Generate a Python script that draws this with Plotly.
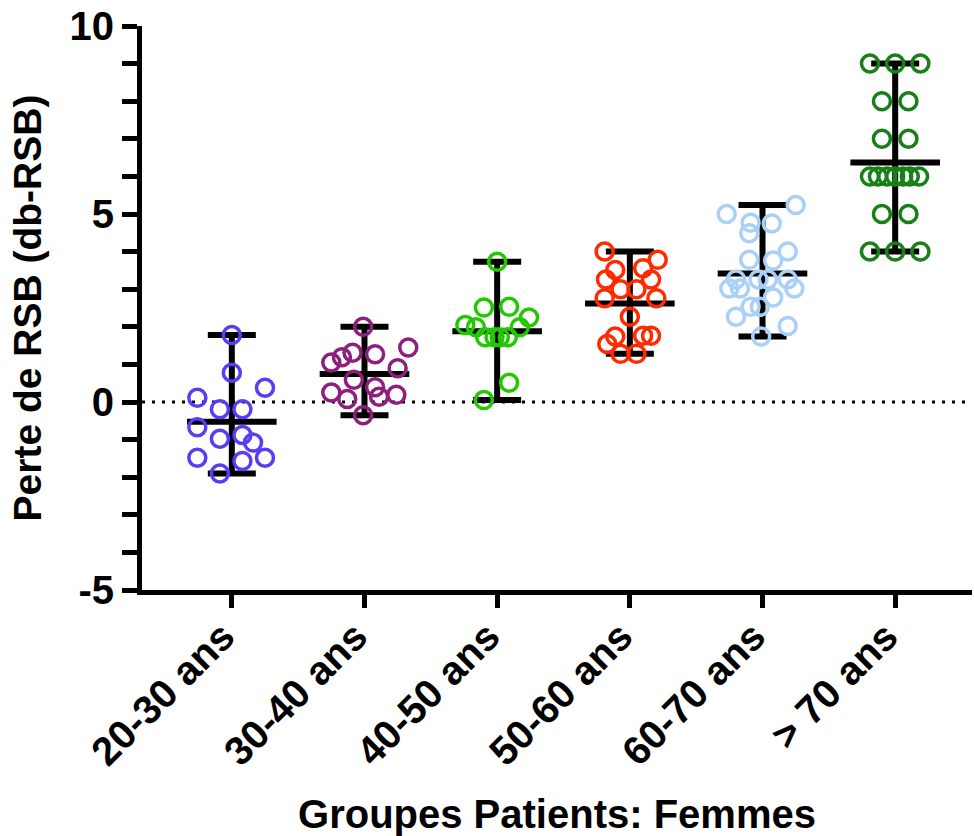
import numpy as np
import plotly.graph_objects as go

categories = ["20-30 ans", "30-40 ans", "40-50 ans", "50-60 ans", "60-70 ans", "> 70 ans"]
y_tick_values = [-5, 0, 5, 10]
y_tick_labels = ["-5", "0", "5", "10"]

g1_values = [1.78, 0.78, 0.38, 0.11, -0.19, -0.19, -0.67, -0.98, -0.88, -1.08, -1.48, -1.57, -1.48, -1.90]
g2_values = [2.00, 1.45, 1.05, 1.19, 1.31, 1.27, 0.90, 0.59, 0.25, 0.08, 0.39, 0.14, 0.19, -0.35]
g3_values = [3.73, 2.51, 2.53, 2.25, 2.05, 1.99, 1.99, 1.72, 1.72, 1.72, 1.72, 0.51, 0.05]
g4_values = [4.00, 3.78, 3.51, 3.56, 3.26, 3.26, 3.00, 3.00, 2.76, 2.76, 2.27, 1.74, 1.76, 1.76, 1.54, 1.28, 1.28]
g5_values = [5.24, 5.00, 4.77, 4.75, 4.49, 4.00, 3.78, 3.76, 3.26, 3.26, 3.26, 3.26, 3.02, 3.02, 3.02,
             2.78, 2.53, 2.53, 2.27, 2.02, 1.74]
g6_values = [9, 9, 9, 8, 8, 7, 7, 6, 6, 6, 6, 6, 6, 6, 5, 5, 4, 4, 4]

values = [g1_values, g2_values, g3_values, g4_values, g5_values, g6_values]

# horizontal scatter (spread) of the dots within each column, in category units
g1_spread = [0, 0, 0.25, -0.26, -0.09, 0.08, -0.26, -0.09, 0.08, 0.16, -0.26, 0.08, 0.25, -0.09]
g2_spread = [-0.01, 0.33, -0.25, -0.17, -0.09, 0.08, 0.25, -0.08, -0.25, -0.13, 0.08, 0.11, 0.24, -0.01]
g3_spread = [0, -0.10, 0.09, 0.24, -0.24, -0.16, 0.17, -0.09, -0.02, 0.02, 0.08, 0.09, -0.10]
g4_spread = [-0.19, 0.21, -0.11, 0.10, -0.18, 0.16, -0.07, 0.05, -0.19, 0.20, 0, -0.11, 0.10, 0.16, -0.17, -0.07, 0.05]
g5_spread = [0.25, -0.27, -0.09, 0.07, -0.10, 0.19, -0.10, 0.08, -0.20, -0.03, 0.04, 0.19, -0.25, -0.17, 0.24,
             0.08, -0.09, -0.02, -0.20, 0.19, -0.01]
g6_spread = [-0.19, 0, 0.19, -0.10, 0.10, -0.10, 0.10, -0.19, -0.13, -0.06, 0, 0.06, 0.11, 0.18, -0.10, 0.10,
             -0.19, 0, 0.19]
spreads = [g1_spread, g2_spread, g3_spread, g4_spread, g5_spread, g6_spread]

colors = ["#5A3CF5", "#8E1F7E", "#22C800", "#FF2A00", "#A8D0F8", "#178017"]

FONT = "Liberation Sans, Arial, sans-serif"

fig = go.Figure()

# zero line (dotted)
fig.add_shape(type="line", xref="paper", x0=0, x1=1, yref="y", y0=0, y1=0,
              line=dict(color="black", width=3, dash="3px,7px"), layer="below")

# mean + range bars
for i, vals in enumerate(values):
    arr = np.array(vals, dtype=float)
    m = arr.mean()
    fig.add_trace(go.Scatter(
        x=[i], y=[m], mode="markers",
        marker=dict(symbol="line-ew", size=64, color="black",
                    line=dict(color="black", width=6)),
        error_y=dict(type="data", symmetric=False,
                     array=[arr.max() - m], arrayminus=[m - arr.min()],
                     color="black", thickness=6, width=24),
        showlegend=False, hoverinfo="skip"))

# points
for i, (vals, sp) in enumerate(zip(values, spreads)):
    fig.add_trace(go.Scatter(
        x=[i + s for s in sp], y=vals, mode="markers",
        marker=dict(symbol="circle-open", size=17, color=colors[i],
                    line=dict(color=colors[i], width=3.5)),
        showlegend=False))

fig.update_layout(
    width=974, height=836,
    margin=dict(l=142, r=2, t=26, b=246, autoexpand=False),
    plot_bgcolor="white", paper_bgcolor="white",
    font=dict(family=FONT, color="black", size=40, weight="bold"),
    showlegend=False,
)

fig.update_xaxes(
    range=[-0.677, 5.579],
    tickmode="array", tickvals=list(range(len(categories))), ticktext=categories,
    tickangle=-45, ticklabelstandoff=-11, ticklabelshift=-9,
    ticks="outside", ticklen=13, tickwidth=5, tickcolor="black",
    showline=True, linewidth=5, linecolor="black",
    showgrid=False, zeroline=False, automargin=False,
    tickfont=dict(family=FONT, size=40, weight="bold"),
    title=dict(text="Groupes Patients: Femmes", font=dict(family=FONT, size=40, weight="bold"), standoff=30),
)

fig.update_yaxes(
    range=[-5, 10],
    tickmode="array", tickvals=y_tick_values, ticktext=y_tick_labels,
    ticks="outside", ticklen=15, tickwidth=5, tickcolor="black",
    minor=dict(dtick=1, ticks="outside", ticklen=15, tickwidth=5, tickcolor="black"),
    showline=True, linewidth=5, linecolor="black",
    showgrid=False, zeroline=False, automargin=False,
    tickfont=dict(family=FONT, size=40, weight="bold"),
    title=dict(text="Perte de RSB (db-RSB)", font=dict(family=FONT, size=39, weight="bold"), standoff=17),
)

fig.write_html("out.html")
